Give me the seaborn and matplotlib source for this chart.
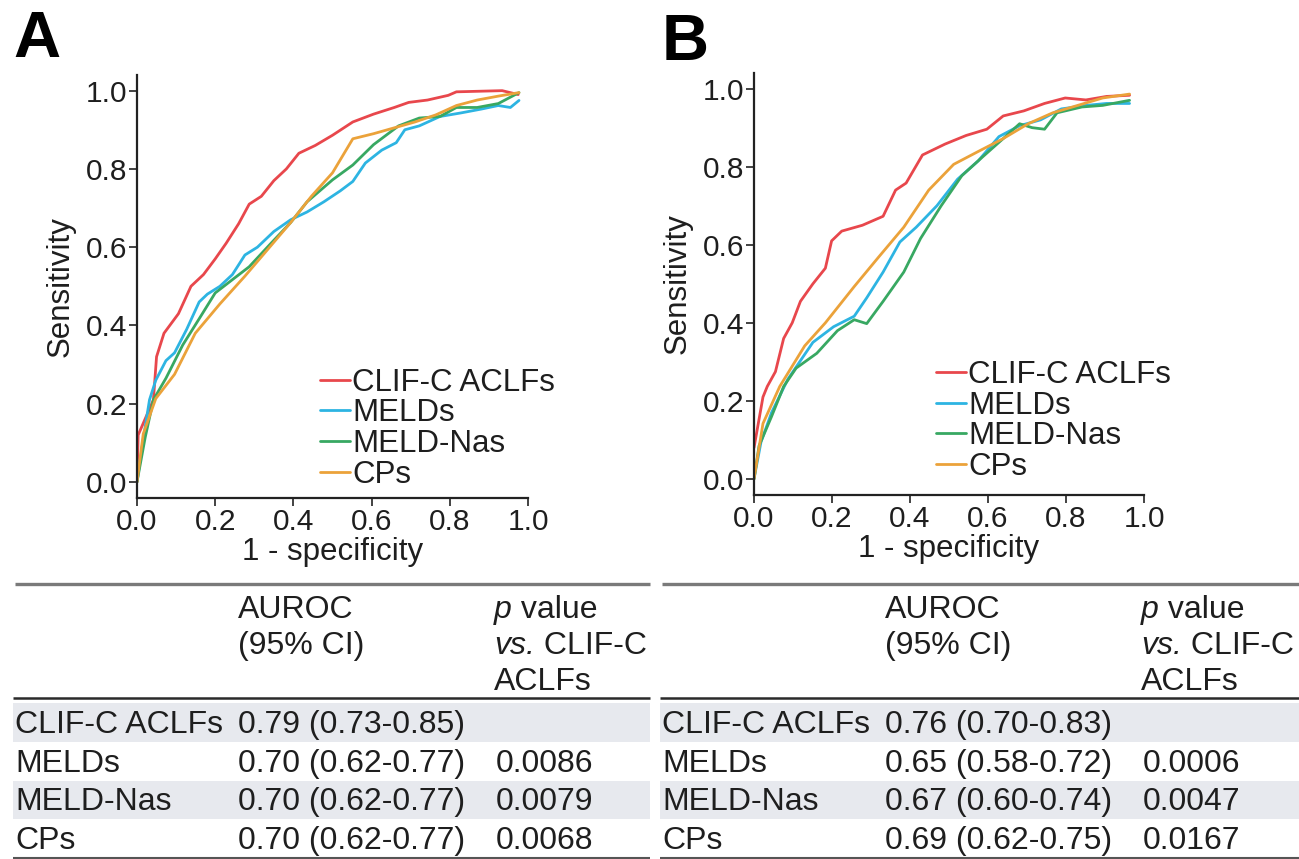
import numpy as np
import pandas as pd
import seaborn as sns
import matplotlib.pyplot as plt

models = ["CLIF-C ACLFs", "MELDs", "MELD-Nas", "CPs"]
colors = ["#E8474C", "#2DB4E2", "#38A862", "#EBA23A"]

# panel A: ROC points (1 - specificity, sensitivity)
a_clif_x = [0, 0.003, 0.042, 0.05, 0.069, 0.106, 0.138, 0.17, 0.20, 0.228, 0.26, 0.287, 0.318, 0.35, 0.382, 0.414,
            0.456, 0.50, 0.552, 0.605, 0.658, 0.695, 0.743, 0.796, 0.817, 0.934, 0.975]
a_clif_y = [0, 0.12, 0.21, 0.32, 0.38, 0.43, 0.50, 0.53, 0.57, 0.61, 0.66, 0.71, 0.73, 0.77, 0.80, 0.84,
            0.86, 0.886, 0.92, 0.94, 0.957, 0.97, 0.976, 0.988, 0.997, 1.0, 0.99]
a_meld_x = [0, 0.016, 0.032, 0.048, 0.074, 0.096, 0.127, 0.159, 0.18, 0.212, 0.244, 0.276, 0.308, 0.35, 0.393,
            0.435, 0.478, 0.52, 0.552, 0.584, 0.626, 0.663, 0.685, 0.722, 0.775, 0.828, 0.881, 0.924, 0.955, 0.977]
a_meld_y = [0, 0.11, 0.21, 0.26, 0.31, 0.33, 0.39, 0.46, 0.48, 0.50, 0.53, 0.58, 0.60, 0.64, 0.67,
            0.69, 0.716, 0.744, 0.768, 0.815, 0.848, 0.867, 0.90, 0.91, 0.934, 0.943, 0.953, 0.962, 0.957, 0.975]
a_nas_x = [0, 0.021, 0.042, 0.074, 0.117, 0.159, 0.20, 0.244, 0.287, 0.34, 0.393, 0.435, 0.50, 0.552, 0.605,
           0.669, 0.722, 0.775, 0.817, 0.87, 0.924, 0.977]
a_nas_y = [0, 0.114, 0.21, 0.265, 0.35, 0.417, 0.483, 0.517, 0.55, 0.607, 0.663, 0.716, 0.772, 0.81, 0.862,
           0.91, 0.93, 0.934, 0.957, 0.957, 0.967, 0.995]
a_cp_x = [0, 0.016, 0.048, 0.096, 0.149, 0.212, 0.276, 0.329, 0.393, 0.446, 0.50, 0.552, 0.605, 0.658, 0.711,
          0.764, 0.817, 0.87, 0.924, 0.977]
a_cp_y = [0, 0.123, 0.213, 0.275, 0.38, 0.455, 0.526, 0.588, 0.663, 0.73, 0.79, 0.877, 0.89, 0.905, 0.92,
          0.938, 0.962, 0.976, 0.986, 0.995]

# panel B
b_clif_x = [0, 0.023, 0.034, 0.055, 0.076, 0.098, 0.119, 0.151, 0.183, 0.199, 0.225, 0.278, 0.331, 0.363, 0.39,
            0.432, 0.49, 0.544, 0.597, 0.639, 0.692, 0.745, 0.798, 0.851, 0.904, 0.963]
b_clif_y = [0.08, 0.21, 0.237, 0.275, 0.36, 0.40, 0.455, 0.50, 0.54, 0.61, 0.635, 0.65, 0.673, 0.74, 0.758,
            0.83, 0.858, 0.88, 0.896, 0.93, 0.943, 0.962, 0.976, 0.971, 0.98, 0.983]
b_meld_x = [0, 0.018, 0.045, 0.087, 0.151, 0.204, 0.257, 0.289, 0.331, 0.374, 0.416, 0.469, 0.522, 0.575, 0.628,
            0.681, 0.735, 0.788, 0.851, 0.904, 0.963]
b_meld_y = [0, 0.095, 0.17, 0.256, 0.35, 0.39, 0.417, 0.464, 0.53, 0.607, 0.645, 0.70, 0.768, 0.815, 0.877,
            0.905, 0.92, 0.948, 0.957, 0.962, 0.962]
b_nas_x = [0, 0.013, 0.045, 0.076, 0.108, 0.161, 0.214, 0.257, 0.289, 0.331, 0.384, 0.427, 0.48, 0.533, 0.586,
           0.639, 0.681, 0.713, 0.745, 0.777, 0.841, 0.894, 0.963]
b_nas_y = [0, 0.085, 0.16, 0.237, 0.284, 0.322, 0.38, 0.408, 0.398, 0.455, 0.53, 0.616, 0.70, 0.777, 0.825,
           0.872, 0.91, 0.90, 0.896, 0.938, 0.953, 0.957, 0.97]
b_cp_x = [0, 0.023, 0.066, 0.13, 0.183, 0.257, 0.32, 0.384, 0.448, 0.512, 0.575, 0.639, 0.703, 0.766, 0.83,
          0.894, 0.963]
b_cp_y = [0, 0.142, 0.237, 0.341, 0.40, 0.493, 0.569, 0.645, 0.74, 0.806, 0.839, 0.872, 0.91, 0.938, 0.957,
          0.976, 0.986]

# tables
auroc_a = ["0.79 (0.73-0.85)", "0.70 (0.62-0.77)", "0.70 (0.62-0.77)", "0.70 (0.62-0.77)"]
pval_a = ["", "0.0086", "0.0079", "0.0068"]
auroc_b = ["0.76 (0.70-0.83)", "0.65 (0.58-0.72)", "0.67 (0.60-0.74)", "0.69 (0.62-0.75)"]
pval_b = ["", "0.0006", "0.0047", "0.0167"]

sns.set_theme(style="ticks")
plt.rcParams["font.family"] = ["Liberation Sans", "DejaVu Sans"]
plt.rcParams["text.color"] = "#1E1E1E"
plt.rcParams["axes.labelcolor"] = "#1E1E1E"

W, H = 1299, 859
fig = plt.figure(figsize=(W / 100, H / 100), dpi=100)


def make_df(xs, ys):
    frames = []
    for m, x, y in zip(models, xs, ys):
        frames.append(pd.DataFrame({"fpr": x, "tpr": y, "model": m}))
    return pd.concat(frames, ignore_index=True)


df_a = make_df([a_clif_x, a_meld_x, a_nas_x, a_cp_x], [a_clif_y, a_meld_y, a_nas_y, a_cp_y])
df_b = make_df([b_clif_x, b_meld_x, b_nas_x, b_cp_x], [b_clif_y, b_meld_y, b_nas_y, b_cp_y])


def px_axes(x0, y0, x1, y1):
    return fig.add_axes([x0 / W, 1 - y1 / H, (x1 - x0) / W, (y1 - y0) / H])


ax_a = px_axes(137, 75, 528, 498)
ax_b = px_axes(754, 73, 1144, 495)

for ax, df, leg_xy in [(ax_a, df_a, (0.468, 0.308)), (ax_b, df_b, (0.467, 0.32))]:
    sns.lineplot(data=df, x="fpr", y="tpr", hue="model", hue_order=models, palette=colors,
                 sort=False, estimator=None, lw=2.0, ax=ax)
    ax.set_xlim(0, 1.0)
    ax.set_ylim(-0.041, 1.04)
    ticks = [0, 0.2, 0.4, 0.6, 0.8, 1.0]
    ax.set_xticks(ticks)
    ax.set_yticks(ticks)
    ax.set_xticklabels([f"{t:.1f}" for t in ticks])
    ax.set_yticklabels([f"{t:.1f}" for t in ticks])
    ax.tick_params(labelsize=21.5, length=5.5, width=1.2, color="#222222", pad=1.5, labelcolor="#1E1E1E")
    sns.despine(ax=ax)
    for s in ["left", "bottom"]:
        ax.spines[s].set_linewidth(1.6)
        ax.spines[s].set_color("#222222")
    ax.set_xlabel("1 - specificity", fontsize=22.5, labelpad=1)
    ax.set_ylabel("Sensitivity", fontsize=22.5, labelpad=7)
    ax.set_facecolor("none")
    handles, labels = ax.get_legend_handles_labels()
    ax.legend(handles, labels, loc="upper left", bbox_to_anchor=leg_xy, frameon=False,
              fontsize=22.5, labelspacing=0.02, handlelength=0.95, handletextpad=0.08,
              borderpad=0, borderaxespad=0)

# panel letters
fig.text(13 / W, 1 - 57 / H, "A", fontsize=47, fontweight="bold", color="black", va="baseline")
fig.text(662 / W, 1 - 60 / H, "B", fontsize=47, fontweight="bold", color="black", va="baseline")

# tables drawn on an overlay in pixel coordinates
ov = fig.add_axes([0, 0, 1, 1], zorder=-1)
ov.set_xlim(0, W)
ov.set_ylim(H, 0)
ov.axis("off")

fs = 23
row_base = [733, 772, 810, 849]
for x0, x1, cx, aurocs, pvals in [(13, 650, 0, auroc_a, pval_a), (660, 1299, 647, auroc_b, pval_b)]:
    ov.fill_between([x0, x1], 703, 742, color="#E7E9EE", lw=0)
    ov.fill_between([x0, x1], 781, 819, color="#E7E9EE", lw=0)
    ov.plot([x0 + 2, x1], [584, 584], color="#7A7A7A", lw=2.4, solid_capstyle="butt")
    ov.plot([x0, x1], [698, 698], color="#2A2A2A", lw=1.8, solid_capstyle="butt")
    ov.plot([x0, x1], [858, 858], color="#555555", lw=1.5, solid_capstyle="butt")
    xa = cx + 238
    xp = cx + 494
    ov.text(xa, 618, "AUROC", fontsize=fs, va="baseline")
    ov.text(xa, 654, "(95% CI)", fontsize=fs, va="baseline")
    t = ov.text(xp, 618, "p", fontsize=fs, va="baseline", style="italic")
    ov.annotate(" value", xy=(1, 0), xycoords=t, va="bottom", fontsize=fs)
    t = ov.text(xp, 654, "vs.", fontsize=fs, va="baseline", style="italic")
    ov.annotate(" CLIF-C", xy=(1, 0), xycoords=t, va="bottom", fontsize=fs)
    ov.text(xp, 690, "ACLFs", fontsize=fs, va="baseline")
    for i, m in enumerate(models):
        ov.text(cx + 15, row_base[i], m, fontsize=fs, va="baseline")
        ov.text(xa, row_base[i], aurocs[i], fontsize=fs, va="baseline")
        ov.text(xp + 2, row_base[i], pvals[i], fontsize=fs, va="baseline")

fig.savefig("out.png", dpi=100)
